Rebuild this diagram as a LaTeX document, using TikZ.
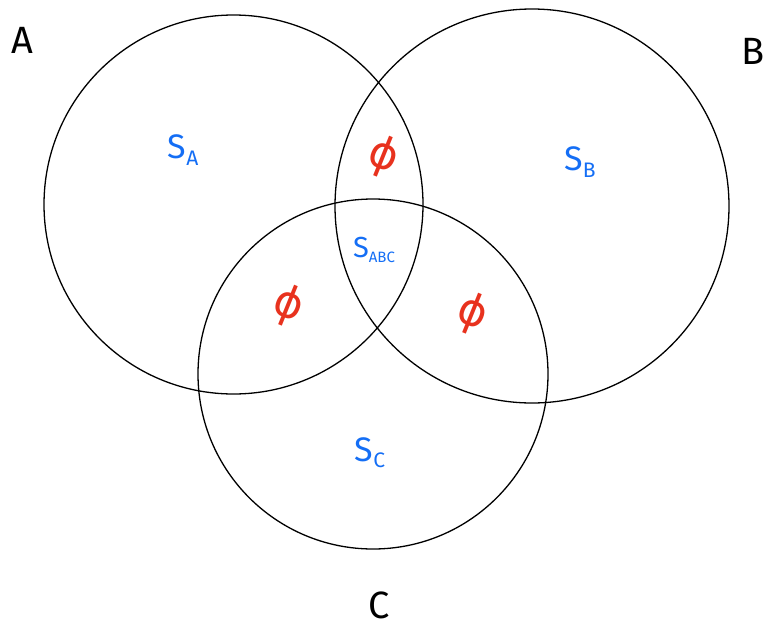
\documentclass[tikz,border=0pt]{standalone}
\usepackage{fontspec}
\setsansfont{Fira Sans}
\newfontfamily\phifont{DejaVu Sans}
\definecolor{setblue}{RGB}{20,110,245}
\definecolor{phired}{RGB}{232,50,30}
\begin{document}
\begin{tikzpicture}[x=1pt,y=-1pt,
  ring/.style={draw=black,line width=1.3pt},
  setname/.style={font=\sffamily\fontsize{38}{38}\selectfont,text=black,inner sep=0pt},
  region/.style={font=\sffamily\fontsize{34}{34}\selectfont,text=setblue,inner sep=0pt},
  empty/.style={font=\phifont\fontsize{44}{44}\selectfont,text=phired,inner sep=0pt,rotate=-22}]
\useasboundingbox (0,0) rectangle (767,629);
\draw[ring] (233.5,204.5) circle[radius=189.5];
\draw[ring] (532,206) circle[radius=197];
\draw[ring] (373,374) circle[radius=175];
\node[setname] (lA) at (22,40) {A};
\node[setname,anchor=east] (lB) at (765,51) {B};
\node[setname] (lC) at (379,605) {C};
\node[region] (sA) at (183,150) {S\raisebox{-0.35ex}{\fontsize{21}{21}\selectfont A}};
\node[region] (sB) at (580,162) {S\raisebox{-0.35ex}{\fontsize{21}{21}\selectfont B}};
\node[region] (sC) at (370,453) {S\raisebox{-0.35ex}{\fontsize{21}{21}\selectfont C}};
\node[region,font=\sffamily\fontsize{29}{29}\selectfont] (sABC) at (374,250) {S\raisebox{-0.3ex}{\fontsize{15}{15}\selectfont ABC}};
\node[empty] (e1) at (383,157) {ϕ};
\node[empty] (e2) at (288,306) {ϕ};
\node[empty] (e3) at (472,314) {ϕ};
\end{tikzpicture}
\end{document}
